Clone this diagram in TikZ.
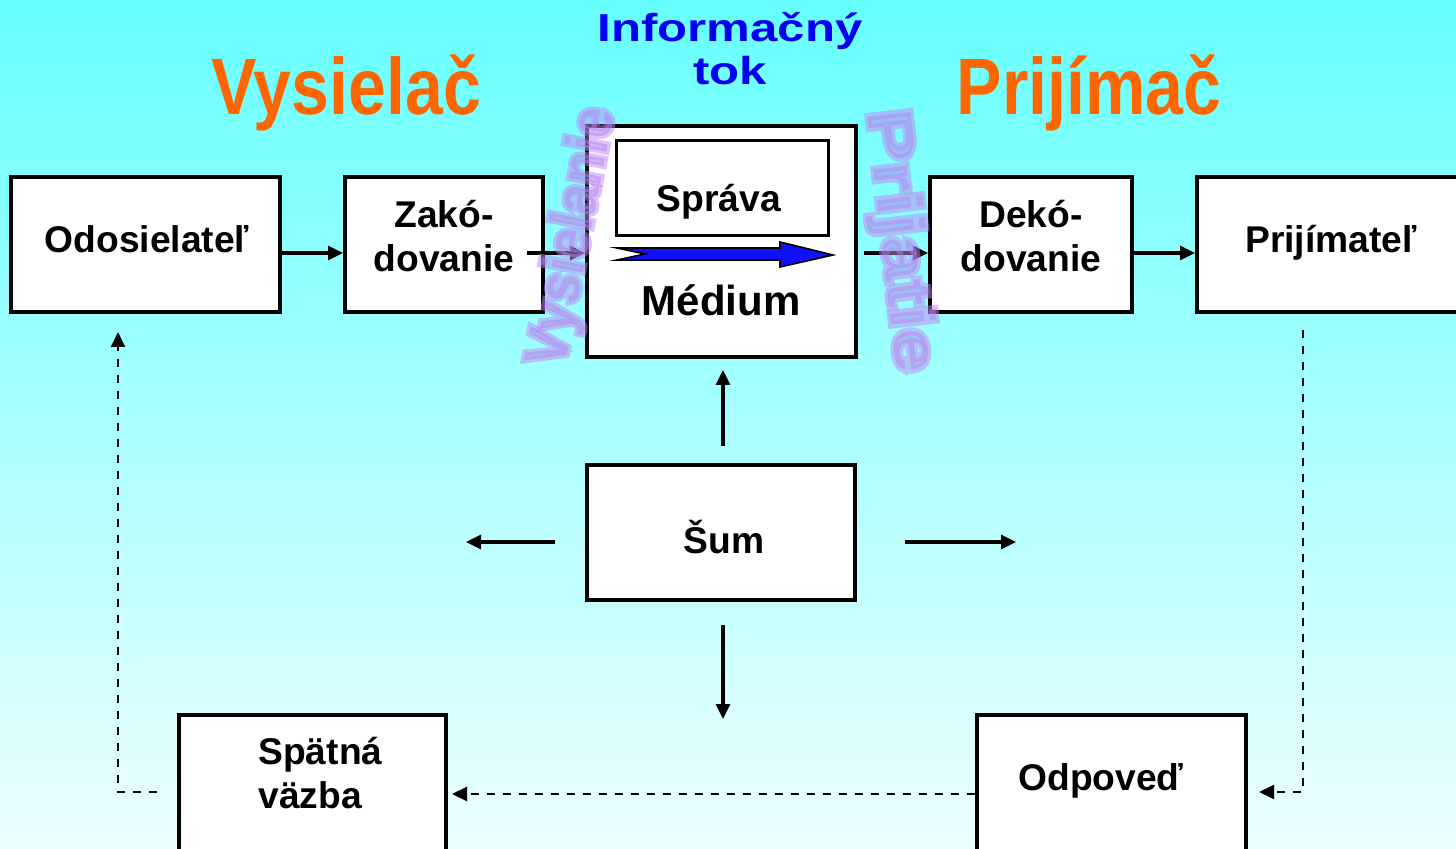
\documentclass[tikz,border=0pt]{standalone}
\usepackage{fontspec}
\setmainfont{Liberation Sans}
\usetikzlibrary{arrows.meta}

\definecolor{oranzova}{RGB}{255,102,0}
\definecolor{modra}{RGB}{0,0,240}
\definecolor{sipkamodra}{RGB}{16,16,255}
\definecolor{fialova}{RGB}{165,135,230}
\definecolor{pozadieH}{RGB}{102,255,255}
\definecolor{pozadieD}{RGB}{238,255,255}

% obrysove pismo (fill + stroke)
\newcommand{\obrys}[1]{\special{pdf:literal direct 2 Tr 0.76 0.52 0.96 RG 3 w}#1\special{pdf:literal direct 0 Tr}}

\tikzset{
	blok/.style={draw, line width=2pt, fill=white, inner sep=0pt},
	popis/.style={inner sep=0pt, align=center, font=\bfseries\fontsize{18.6}{22}\selectfont},
	sipka/.style={line width=1.6pt, -{Triangle[length=7.5pt,width=7pt]}},
	ciarky/.style={line width=1pt, dash pattern=on 4pt off 4pt, -{Triangle[length=7.5pt,width=7pt]}},
	nadpis/.style={inner sep=0pt, text=oranzova, xscale=0.85, font=\bfseries\fontsize{40}{42}\selectfont},
	tokpis/.style={inner sep=0pt, align=center, text=modra, xscale=1.26, font=\bfseries\fontsize{19.5}{21.5}\selectfont},
	vodotlac/.style={inner sep=0pt, text=fialova}
}

\begin{document}
\begin{tikzpicture}[x=0.5pt, y=-0.5pt]
	%pozadie
	\useasboundingbox (0,0) rectangle (1456,849);
	\clip (0,0) rectangle (1456,849);
	\shade[top color=pozadieH, bottom color=pozadieD] (0,0) rectangle (1456,849);
	
	%nadpisy
	\node[nadpis, anchor=base] (vysielac) at (346,115) {Vysielač};
	\node[nadpis, anchor=base] (prijimac) at (1089,115) {Prijímač};
	\node[tokpis, anchor=base] (tok) at (730,85) {Informačný\\tok};
	
	%bloky
	\node[blok, minimum width=134.5pt, minimum height=67.5pt] (odos) at (145.5,244.5) {};
	\node[blok, minimum width=99pt, minimum height=67.5pt] (zak) at (444,244.5) {};
	\node[blok, minimum width=134.5pt, minimum height=115.5pt] (med) at (721.5,241.5) {};
	\node[blok, line width=1.5pt, minimum width=106pt, minimum height=47.5pt] (sprava) at (722.5,188) {};
	\node[blok, minimum width=101pt, minimum height=67.5pt] (dek) at (1031,244.5) {};
	\node[blok, minimum width=135pt, minimum height=67.5pt] (prij) at (1332,244.5) {};
	\node[blok, minimum width=134pt, minimum height=67.5pt] (sum) at (721,532.5) {};
	\node[blok, minimum width=133.5pt, minimum height=85pt] (spat) at (312.5,800) {};
	\node[blok, minimum width=134.5pt, minimum height=85pt] (odp) at (1111.5,800) {};
	
	%texty
	\node[popis, anchor=base] (odosT) at (147,253) {Odosielateľ};
	\node[popis, anchor=base] (zakT) at (444,272) {Zakó-\\dovanie};
	\node[popis, anchor=base] (spravaT) at (719,212) {Správa};
	\node[popis, anchor=base, font=\bfseries\fontsize{21}{24}\selectfont] (mediumT) at (721,316) {Médium};
	\node[popis, anchor=base] (dekT) at (1031,272) {Dekó-\\dovanie};
	\node[popis, anchor=base] (prijT) at (1331,253) {Prijímateľ};
	\node[popis, anchor=base] (sumT) at (724,554) {Šum};
	\node[popis, anchor=base west, align=left] (spatT) at (258,808) {Spätná\\väzba};
	\node[popis, anchor=base] (odpT) at (1101,790) {Odpoveď};
	
	%modra sipka spravy
	\draw[fill=sipkamodra, line width=0.8pt] (617,248) -- (780,248) -- (780,242) -- (833,255)
		-- (780,267) -- (780,260) -- (617,260) -- (645,254) -- cycle;
	
	%hlavny tok
	\coordinate (hl) at (0,253);
	\coordinate (zakS) at (527,253);
	\draw[sipka] (odos.east |- hl) -- (zak.west |- hl);
	\draw[sipka] (zakS) -- (med.west |- hl);
	\draw[sipka] ([xshift=3pt]med.east |- hl) -- (dek.west |- hl);
	\draw[sipka] (dek.east |- hl) -- (prij.west |- hl);
	
	%sum
	\coordinate (sumH) at (723,446);
	\coordinate (sumH2) at (723,370);
	\coordinate (sumL) at (555,542);
	\coordinate (sumL2) at (466,542);
	\coordinate (sumP) at (905,542);
	\coordinate (sumP2) at (1016,542);
	\coordinate (sumD) at (723,625);
	\coordinate (sumD2) at (723,719);
	\draw[sipka] (sumH) -- (sumH2);
	\draw[sipka] (sumL) -- (sumL2);
	\draw[sipka] (sumP) -- (sumP2);
	\draw[sipka] (sumD) -- (sumD2);
	
	%spatna vazba
	\coordinate (pr1) at (1303,330);
	\coordinate (pr2) at (1259,792);
	\coordinate (sv1) at (157,792);
	\coordinate (sv2) at (118,332);
	\coordinate (ov) at (0,794);
	\draw[ciarky] (pr1) |- (pr2);
	\draw[ciarky] (odp.west |- ov) -- ([xshift=2pt]spat.east |- ov);
	\draw[ciarky] (sv1) -| (sv2);
	
	%vodotlac
	\begin{scope}[opacity=0.5]
		\node[vodotlac, rotate=79, yscale=1.1, font=\bfseries\fontsize{27}{30}\selectfont] (vysielanie) at (574,237) {\obrys{Vysielanie}};
		\node[vodotlac, rotate=-83.5, xscale=1.32, yscale=1.05, font=\bfseries\fontsize{30}{32}\selectfont] (prijatie) at (898,241) {\obrys{Prijatie}};
	\end{scope}
\end{tikzpicture}
\end{document}
